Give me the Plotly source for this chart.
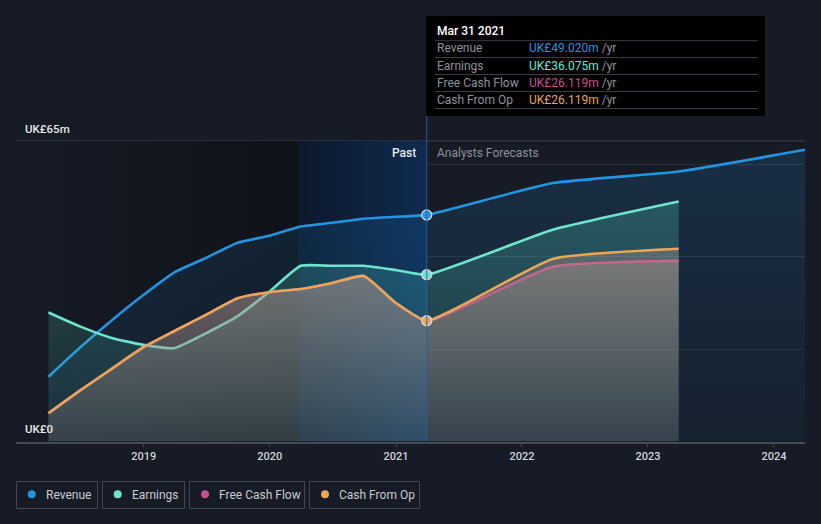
import plotly.graph_objects as go

# ---------------- data ----------------
past_dates = ["2018-03-31", "2018-06-30", "2018-09-30", "2018-12-31", "2019-03-31",
              "2019-06-30", "2019-09-30", "2019-12-31", "2020-03-31", "2020-06-30",
              "2020-09-30", "2020-12-31", "2021-03-31"]
revenue_past = [14.0, 20.3, 26.2, 31.7, 36.6, 39.7, 43.0, 44.5, 46.5, 47.3, 48.2, 48.6, 49.02]
earnings_past = [27.9, 24.9, 22.4, 20.9, 20.2, 23.4, 27.1, 32.4, 38.0, 38.0, 38.0, 37.1, 36.075]
fcf_past = [6.1, 11.0, 15.7, 20.4, 23.9, 27.4, 31.0, 32.3, 33.0, 34.3, 35.8, 30.0, 26.119]
cfo_past = [6.1, 11.0, 15.7, 20.4, 23.9, 27.4, 31.0, 32.3, 33.0, 34.3, 35.8, 30.0, 26.119]

fc_dates = ["2022-03-31", "2023-03-31", "2024-03-31"]
revenue_fc = [55.9, 58.4, 63.1]
earnings_fc = [45.8, 51.9]
fcf_fc = [37.8, 39.1]
cfo_fc = [39.5, 41.7]

tooltip_date = "Mar 31 2021"
tooltip_labels = ["Revenue", "Earnings", "Free Cash Flow", "Cash From Op"]
tooltip_values = ["UK£49.020m", "UK£36.075m", "UK£26.119m", "UK£26.119m"]
x_ticks = ["2019-01-01", "2020-01-01", "2021-01-01", "2022-01-01", "2023-01-01", "2024-01-01"]
x_tick_text = ["2019", "2020", "2021", "2022", "2023", "2024"]
y_max_label = "UK£65m"
y_min_label = "UK£0"

# ---------------- style ----------------
W, H = 821, 524
BG = "#161b26"
FONT = "Roboto"
C_REV = "#2394df"
C_EARN = "#6fe3cd"
C_FCF = "#c8508a"
C_CFO = "#e8a65b"

def px(x):
    return x / W

def py(y):
    return 1 - y / H

fig = go.Figure()

# background gradients (past region and last-year highlight)
fig.add_trace(go.Scatter(
    x=["2017-12-27", "2017-12-27", "2020-03-24", "2020-03-24", "2017-12-27"],
    y=[0, 65, 65, 0, 0], mode="none", fill="toself", hoverinfo="skip",
    fillgradient=dict(type="horizontal", colorscale=[[0, "#161b26"], [1, "#0f1219"]]),
    showlegend=False))
fig.add_trace(go.Scatter(
    x=["2020-03-24", "2020-03-24", "2021-03-31", "2021-03-31", "2020-03-24"],
    y=[0, 65, 65, 0, 0], mode="none", fill="toself", hoverinfo="skip",
    fillgradient=dict(type="horizontal", colorscale=[[0, "#0c192c"], [1, "#0e2b50"]]),
    showlegend=False))

def series(dates, vals, color, grad_bottom, grad_top, stop):
    fig.add_trace(go.Scatter(
        x=dates, y=vals, mode="lines",
        line=dict(color=color, width=2.6, shape="spline", smoothing=0.45),
        fill="tozeroy",
        fillgradient=dict(type="vertical", colorscale=[[0, grad_bottom], [1, grad_top]],
                          start=0, stop=stop),
        hoverinfo="skip", showlegend=False))

series(past_dates + fc_dates, revenue_past + revenue_fc, C_REV,
       "rgba(35,148,223,0.05)", "rgba(35,148,223,0.16)", 64)
series(past_dates + fc_dates[:2], earnings_past + earnings_fc, C_EARN,
       "rgba(88,226,201,0.08)", "rgba(88,226,201,0.24)", 50)
series(past_dates + fc_dates[:2], fcf_past + fcf_fc, C_FCF,
       "rgba(150,135,135,0.11)", "rgba(180,148,140,0.36)", 40)
series(past_dates + fc_dates[:2], cfo_past + cfo_fc, C_CFO,
       "rgba(150,135,135,0.11)", "rgba(180,148,140,0.36)", 40)

# markers at the tooltip date
fig.add_trace(go.Scatter(
    x=[past_dates[-1]] * 3, y=[revenue_past[-1], earnings_past[-1], cfo_past[-1]],
    mode="markers",
    marker=dict(size=10, color=[C_REV, C_EARN, C_CFO], line=dict(color="#d5dbe3", width=1.3)),
    hoverinfo="skip", showlegend=False))

shapes = []
annotations = []

# top line (65m) and vertical tooltip line
shapes.append(dict(type="line", xref="paper", yref="paper", x0=px(16), x1=px(805),
                   y0=py(141), y1=py(141), line=dict(color="#3c4049", width=1), layer="below"))
shapes.append(dict(type="line", xref="x", yref="paper", x0="2021-03-31", x1="2021-03-31",
                   y0=py(116), y1=py(441), line=dict(color="rgba(45,95,165,0.75)", width=1.2)))

# tooltip box
shapes.append(dict(type="rect", xref="paper", yref="paper", x0=px(426), x1=px(765),
                   y0=py(16), y1=py(116), fillcolor="#000000", line=dict(width=0)))
for yl in [40.7, 57.5, 74.5, 91.5, 108.5]:
    shapes.append(dict(type="line", xref="paper", yref="paper", x0=px(435), x1=px(758),
                       y0=py(yl), y1=py(yl), line=dict(color="#3a3d44", width=1)))
annotations.append(dict(xref="paper", yref="paper", x=px(435), y=py(31), text=tooltip_date,
                        showarrow=False, xanchor="left", yanchor="middle",
                        font=dict(family=FONT, size=12, color="#ffffff", weight=500)))
row_colors = [C_REV, C_EARN, C_FCF, C_CFO]
for i, (lab, val) in enumerate(zip(tooltip_labels, tooltip_values)):
    yc = 48.5 + i * 17
    annotations.append(dict(xref="paper", yref="paper", x=px(435), y=py(yc), text=lab,
                            showarrow=False, xanchor="left", yanchor="middle",
                            font=dict(family=FONT, size=12, color="#8e939b")))
    annotations.append(dict(xref="paper", yref="paper", x=px(527), y=py(yc),
                            text=f"<span style='color:{row_colors[i]}'>{val}</span> /yr",
                            showarrow=False, xanchor="left", yanchor="middle",
                            font=dict(family=FONT, size=12, color="#8e939b")))

# Past / Analysts Forecasts
annotations.append(dict(xref="paper", yref="paper", x=px(418), y=py(153), text="Past",
                        showarrow=False, xanchor="right", yanchor="middle",
                        font=dict(family=FONT, size=12, color="#e8eaed", weight=500)))
annotations.append(dict(xref="paper", yref="paper", x=px(435), y=py(153), text="Analysts Forecasts",
                        showarrow=False, xanchor="left", yanchor="middle",
                        font=dict(family=FONT, size=12, color="#8d9199")))

# y labels
annotations.append(dict(xref="paper", yref="paper", x=px(23), y=py(129), text=y_max_label,
                        showarrow=False, xanchor="left", yanchor="middle",
                        font=dict(family=FONT, size=11.5, color="#e6e8eb", weight=500)))
annotations.append(dict(xref="paper", yref="paper", x=px(23), y=py(429), text=y_min_label,
                        showarrow=False, xanchor="left", yanchor="middle",
                        font=dict(family=FONT, size=11.5, color="#e6e8eb", weight=500)))

# legend boxes
leg_boxes = [(16.5, 97.5), (102.5, 184.5), (189.5, 304.5), (309.5, 419.5)]
leg_dots = [31.7, 117.7, 205, 325]
leg_text_x = [44, 130, 217, 337]
for (x0, x1), dx, tx, lab, col in zip(leg_boxes, leg_dots, leg_text_x, tooltip_labels, row_colors):
    shapes.append(dict(type="rect", xref="paper", yref="paper", x0=px(x0), x1=px(x1),
                       y0=py(481.5), y1=py(508.5), line=dict(color="#41454e", width=1),
                       fillcolor="rgba(0,0,0,0)"))
    shapes.append(dict(type="circle", xref="paper", yref="paper", x0=px(dx - 4), x1=px(dx + 4),
                       y0=py(494.3 - 4), y1=py(494.3 + 4), fillcolor=col, line=dict(width=0)))
    annotations.append(dict(xref="paper", yref="paper", x=px(tx), y=py(494.5), text=lab,
                            showarrow=False, xanchor="left", yanchor="middle",
                            font=dict(family=FONT, size=12, color="#c9ccd2")))

fig.update_layout(
    width=W, height=H,
    margin=dict(l=0, r=0, t=0, b=0),
    paper_bgcolor=BG, plot_bgcolor="rgba(0,0,0,0)",
    shapes=shapes, annotations=annotations,
    showlegend=False,
    xaxis=dict(domain=[px(16), px(805)], type="date",
               range=["2017-12-27", "2024-03-31"],
               tickvals=x_ticks, ticktext=x_tick_text,
               showgrid=False, zeroline=False,
               showline=True, linecolor="#454a53", linewidth=1.5,
               ticks="outside", ticklen=4, tickcolor="#454a53", tickwidth=1,
               tickfont=dict(family=FONT, size=11, color="#d0d3d8", weight=500)),
    yaxis=dict(domain=[py(441.5), py(141)], range=[0, 65],
               tickvals=[20, 40, 60], showticklabels=False,
               showgrid=True, gridcolor="#2a2f38", gridwidth=1, zeroline=False),
)

fig.write_html("out.html")
